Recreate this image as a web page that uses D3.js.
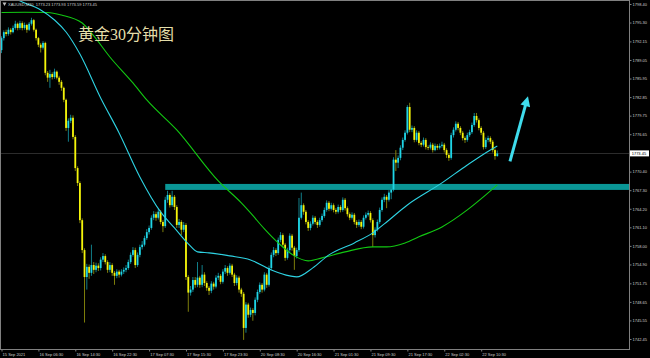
<!DOCTYPE html>
<html>
<head>
<meta charset="utf-8">
<script src="https://cdn.jsdelivr.net/npm/d3@7"></script>
<style>
body { margin: 0; background: #000; }
svg { display: block; }
</style>
</head>
<body>
<svg id="chart" width="650" height="358"></svg>
<script>
/* global d3*/
// XAUUSD M30
var firstOpen = 1790.7;

var closes = [
    1792.7, 1793.7, 1793.4, 1794.1, 1793.7, 1794.4, 1795.1, 1794.4, 1795.2, 1794.4,
    1794.9, 1794.1, 1795.1, 1795.7, 1794.1, 1792.7, 1791.6, 1791.1, 1791.9, 1786.9,
    1786.1, 1786.7, 1786.2, 1787.1, 1786.1, 1785.4, 1784.4, 1782.4, 1777.7, 1778.9,
    1779.4, 1776.2, 1771.0, 1768.5, 1762.3, 1757.3, 1752.8, 1754.5, 1753.5, 1754.8,
    1754.0, 1754.7, 1754.3, 1755.7, 1756.3, 1755.3, 1754.0, 1754.8, 1753.5, 1753.0,
    1753.7, 1753.2, 1753.7, 1754.0, 1754.3, 1755.3, 1756.5, 1757.3, 1754.8, 1756.5,
    1757.8, 1758.2, 1759.3, 1760.3, 1761.0, 1762.7, 1763.3, 1762.7, 1763.7, 1762.0,
    1761.3, 1765.7, 1766.5, 1764.8, 1766.2, 1764.5, 1761.5, 1762.0, 1760.7, 1761.5,
    1752.8, 1750.2, 1750.7, 1752.3, 1751.5, 1752.7, 1751.5, 1753.2, 1751.8, 1751.0,
    1750.5, 1751.7, 1751.2, 1752.7, 1753.0, 1752.0, 1753.7, 1754.3, 1753.5, 1754.7,
    1753.2, 1751.8, 1752.7, 1750.7, 1750.0, 1744.3, 1748.2, 1746.5, 1747.3, 1746.8,
    1749.0, 1750.3, 1751.5, 1750.7, 1753.2, 1751.5, 1754.3, 1756.5, 1757.3, 1756.8,
    1759.0, 1759.8, 1758.2, 1756.0, 1757.3, 1759.7, 1757.7, 1756.3, 1757.3, 1762.7,
    1764.8, 1763.7, 1762.0, 1761.0, 1761.7, 1762.7, 1762.0, 1761.5, 1762.3, 1763.0,
    1764.0, 1765.2, 1764.2, 1764.8, 1764.0, 1763.7, 1764.5, 1764.0, 1765.7, 1764.3,
    1763.3, 1762.7, 1763.2, 1762.0, 1761.5, 1762.0, 1761.2, 1762.7, 1763.2, 1763.5,
    1762.3, 1759.8, 1760.7, 1762.0, 1764.0, 1765.7, 1766.2, 1765.7, 1766.9, 1767.4,
    1772.4, 1771.9, 1772.7, 1774.4, 1775.7, 1776.9, 1781.2, 1777.4, 1777.7, 1775.7,
    1776.9, 1775.2, 1774.9, 1775.7, 1774.5, 1774.4, 1774.9, 1774.0, 1774.7, 1774.4,
    1774.7, 1774.9, 1774.0, 1773.2, 1772.7, 1776.5, 1777.4, 1778.4, 1777.7, 1776.9,
    1776.0, 1775.7, 1776.5, 1777.0, 1778.2, 1779.7, 1779.0, 1777.7, 1776.9, 1774.5,
    1775.7, 1776.0, 1775.4, 1774.0, 1773.0, 1773.45
];

var highs = [
    1793.0, 1794.0, 1794.1, 1794.5, 1794.4, 1794.8, 1795.6, 1795.3, 1795.6, 1795.5,
    1795.3, 1795.1, 1795.4, 1796.1, 1795.9, 1794.3, 1792.9, 1791.9, 1792.2, 1792.1,
    1787.2, 1787.4, 1787.0, 1787.6, 1787.3, 1786.4, 1785.7, 1784.6, 1782.6, 1779.3,
    1779.9, 1779.8, 1776.5, 1771.3, 1768.8, 1762.6, 1757.6, 1755.0, 1754.9, 1758.2,
    1755.3, 1755.2, 1755.1, 1756.1, 1756.8, 1756.6, 1755.6, 1755.3, 1755.1, 1753.8,
    1754.1, 1754.0, 1754.1, 1754.4, 1754.8, 1755.7, 1756.9, 1757.8, 1757.7, 1756.9,
    1758.2, 1758.8, 1759.7, 1760.8, 1761.4, 1763.1, 1763.8, 1763.7, 1764.2, 1764.0,
    1762.3, 1766.2, 1767.2, 1766.8, 1767.2, 1766.5, 1764.8, 1762.5, 1762.3, 1762.0,
    1761.8, 1753.1, 1751.3, 1752.8, 1752.8, 1755.3, 1753.0, 1754.8, 1753.6, 1752.1,
    1751.3, 1752.1, 1752.0, 1753.1, 1753.5, 1753.3, 1754.1, 1754.8, 1754.6, 1755.1,
    1755.0, 1753.5, 1753.1, 1753.0, 1751.0, 1750.3, 1748.6, 1748.5, 1747.7, 1747.6,
    1749.4, 1750.7, 1751.9, 1751.8, 1753.6, 1753.5, 1754.7, 1756.9, 1757.8, 1757.6,
    1759.4, 1760.3, 1760.1, 1758.5, 1757.7, 1760.1, 1760.0, 1758.0, 1757.7, 1766.0,
    1766.9, 1765.1, 1764.0, 1762.3, 1762.1, 1763.1, 1763.0, 1762.3, 1762.7, 1763.4,
    1764.4, 1765.6, 1765.5, 1765.2, 1765.1, 1764.3, 1764.9, 1764.8, 1766.1, 1766.0,
    1764.6, 1763.6, 1763.6, 1763.5, 1762.3, 1762.4, 1762.3, 1763.1, 1763.6, 1763.9,
    1763.8, 1762.6, 1761.1, 1762.4, 1764.4, 1766.1, 1766.7, 1766.5, 1767.3, 1767.9,
    1772.8, 1774.0, 1773.1, 1774.8, 1776.1, 1777.3, 1781.5, 1781.9, 1778.1, 1778.0,
    1777.3, 1777.2, 1775.5, 1776.1, 1776.0, 1774.8, 1775.3, 1775.2, 1775.1, 1775.0,
    1775.1, 1775.4, 1775.2, 1774.3, 1773.5, 1776.9, 1777.8, 1778.8, 1778.7, 1778.0,
    1777.2, 1776.3, 1776.9, 1777.4, 1778.6, 1780.2, 1780.2, 1779.3, 1778.0, 1777.2,
    1776.1, 1776.4, 1776.3, 1775.7, 1774.3, 1773.93
];

var lows = [
    1790.2, 1792.3, 1793.0, 1793.1, 1793.3, 1793.5, 1794.1, 1794.0, 1794.1, 1794.0,
    1794.1, 1793.6, 1793.9, 1794.8, 1793.8, 1792.3, 1791.2, 1790.3, 1790.8, 1786.5,
    1785.4, 1784.4, 1785.8, 1785.9, 1785.8, 1784.9, 1783.9, 1782.0, 1777.2, 1775.4,
    1778.5, 1775.8, 1770.5, 1768.0, 1761.8, 1756.8, 1745.2, 1750.7, 1752.5, 1753.0,
    1753.3, 1753.6, 1753.8, 1753.9, 1755.3, 1754.9, 1753.5, 1753.6, 1753.0, 1751.5,
    1752.6, 1752.7, 1752.9, 1753.3, 1753.6, 1754.0, 1755.0, 1756.2, 1754.3, 1754.5,
    1756.1, 1757.4, 1757.9, 1759.0, 1759.9, 1760.7, 1762.3, 1762.2, 1762.4, 1761.6,
    1760.3, 1761.0, 1765.2, 1764.4, 1764.5, 1764.0, 1761.0, 1761.0, 1759.8, 1760.3,
    1752.3, 1747.0, 1749.7, 1750.3, 1751.0, 1751.1, 1751.0, 1751.1, 1751.3, 1750.5,
    1749.8, 1750.1, 1750.7, 1750.9, 1752.3, 1751.6, 1751.7, 1753.3, 1753.0, 1753.2,
    1752.8, 1751.3, 1751.4, 1750.2, 1749.5, 1742.3, 1743.5, 1746.0, 1746.1, 1745.5,
    1746.4, 1748.6, 1750.0, 1750.2, 1750.4, 1751.0, 1751.2, 1754.0, 1756.1, 1756.3,
    1756.5, 1758.6, 1757.8, 1755.5, 1755.7, 1757.0, 1757.2, 1754.0, 1755.9, 1757.0,
    1762.4, 1763.2, 1761.6, 1760.5, 1760.6, 1761.4, 1761.6, 1761.0, 1761.2, 1762.0,
    1762.7, 1763.7, 1763.8, 1763.9, 1763.6, 1763.3, 1763.4, 1763.6, 1763.7, 1763.9,
    1762.9, 1762.3, 1762.4, 1761.6, 1761.0, 1761.2, 1760.8, 1760.9, 1762.4, 1762.9,
    1761.9, 1757.8, 1759.4, 1760.4, 1761.7, 1763.7, 1765.3, 1764.3, 1765.4, 1765.8,
    1767.1, 1770.5, 1771.0, 1772.3, 1774.0, 1775.4, 1776.6, 1777.0, 1777.0, 1775.3,
    1775.4, 1774.8, 1774.5, 1774.6, 1774.1, 1774.0, 1774.1, 1773.6, 1773.8, 1774.0,
    1774.1, 1774.4, 1773.6, 1772.7, 1772.2, 1772.4, 1776.1, 1777.1, 1777.3, 1776.5,
    1775.6, 1775.2, 1775.4, 1776.2, 1776.7, 1777.9, 1778.6, 1777.3, 1776.5, 1774.1,
    1774.2, 1775.3, 1775.0, 1773.6, 1772.4, 1772.9
];

var fastIdx = [5, 9, 17, 23, 28, 34, 43, 51, 60, 69, 75, 81, 85, 90, 99, 108, 117, 125, 128, 135, 142, 153, 161, 166, 176, 191, 202, 212, 215];
var fastVal = [1799.5, 1798.73, 1797.40, 1795.73, 1793.73, 1790.05, 1782.71, 1776.87, 1769.52, 1763.68, 1761.01, 1758.34, 1757.00, 1756.83, 1756.33, 1755.66, 1753.99, 1752.99, 1752.82, 1754.33, 1756.50, 1758.50, 1760.17, 1761.67, 1764.84, 1768.52, 1771.52, 1774.03, 1774.69];

// trage MA (groen)
var slowIdx = [0, 10, 20, 26, 35, 40, 47, 57, 63, 76, 94, 104, 108, 114, 120, 127, 133, 139, 149, 161, 167, 175, 181, 191, 202, 210, 215];
var slowVal = [1796.98, 1797.01, 1796.98, 1796.56, 1795.23, 1793.06, 1789.55, 1785.21, 1782.37, 1777.37, 1768.85, 1765.18, 1763.51, 1760.84, 1758.50, 1756.33, 1755.50, 1756.00, 1757.00, 1757.83, 1757.83, 1758.50, 1759.51, 1761.17, 1764.01, 1766.51, 1768.18];

var priceTicks = [1798.40, 1795.30, 1792.15, 1789.05, 1785.95, 1782.85, 1779.75, 1776.65,
    1770.40, 1767.30, 1764.20, 1761.10, 1758.00, 1754.90, 1751.75, 1748.65, 1745.55, 1742.45];

var timeLabels = ["15 Sep 2021", "16 Sep 06:30", "16 Sep 14:30", "16 Sep 22:30", "17 Sep 07:30",
    "17 Sep 15:30", "17 Sep 23:30", "20 Sep 08:30", "20 Sep 16:30", "21 Sep 01:30",
    "21 Sep 09:30", "21 Sep 17:30", "22 Sep 02:30", "22 Sep 10:30"];
var timeStep = 16;

var lastPrice = 1773.45;
var levelBand = [1767.35, 1768.35];
var levelStart = 71;
var arrowFrom = [220.5, 1772.1],
    arrowTo = [228.3, 1783.0];
var headerText = "XAUUSD,M30  1773.23 1773.93 1773.59 1773.45";
var title = "黄金30分钟图";

////////////////////////////////////////////////////////////////////
var svg = d3.select("#chart"),
    plot = { left: 1, top: 1, right: 629.5, bottom: 349.5 };

var x = d3.scaleLinear().domain([0, 215]).range([1.5, 497.3]),
    y = d3.scaleLinear().domain([1742.45, 1798.40]).range([339, 4]);

svg.append("rect")
    .attr("width", 650)
    .attr("height", 358)
    .attr("fill", "#000");

svg.append("clipPath")
    .attr("id", "clip")
    .append("rect")
    .attr("x", plot.left)
    .attr("y", plot.top)
    .attr("width", plot.right - plot.left)
    .attr("height", plot.bottom - plot.top);

var g = svg.append("g").attr("clip-path", "url(#clip)");

// bid lijn
g.append("line")
    .attr("x1", plot.left)
    .attr("x2", plot.right)
    .attr("y1", Math.round(y(lastPrice)) + 0.5)
    .attr("y2", Math.round(y(lastPrice)) + 0.5)
    .attr("stroke", "#2c2c2c");

// weerstand / steun zone
g.append("rect")
    .attr("x", x(levelStart))
    .attr("y", y(levelBand[1]))
    .attr("width", plot.right - x(levelStart))
    .attr("height", y(levelBand[0]) - y(levelBand[1]))
    .attr("fill", "#0a9696");

// candles
var bars = closes.map(function (c, i) {
    return { i: i, o: i ? closes[i - 1] : firstOpen, c: c, h: highs[i], l: lows[i] };
});

g.selectAll(".wick")
    .data(bars)
    .enter().append("line")
    .attr("class", "wick")
    .attr("x1", function (d) { return x(d.i); })
    .attr("x2", function (d) { return x(d.i); })
    .attr("y1", function (d) { return y(d.h); })
    .attr("y2", function (d) { return y(d.l); })
    .attr("stroke", function (d) { return d.c >= d.o ? "#138c98" : "#8c8c0c"; })
    .attr("stroke-width", 0.9);

g.selectAll(".bar")
    .data(bars)
    .enter().append("rect")
    .attr("class", "bar")
    .attr("x", function (d) { return x(d.i) - 0.9; })
    .attr("width", 1.8)
    .attr("y", function (d) { return y(Math.max(d.o, d.c)); })
    .attr("height", function (d) {
        return Math.max(0.8, Math.abs(y(d.o) - y(d.c)));
    })
    .attr("fill", function (d) { return d.c >= d.o ? "#1fd5e6" : "#f4f40a"; });

// moving averages
var maLine = d3.line()
    .x(function (d) { return x(d[0]); })
    .y(function (d) { return y(d[1]); })
    .curve(d3.curveMonotoneX);

g.append("path")
    .datum(slowIdx.map(function (d, i) { return [d, slowVal[i]]; }))
    .attr("d", maLine)
    .attr("fill", "none")
    .attr("stroke", "#12c812")
    .attr("stroke-width", 1.1);

g.append("path")
    .datum(fastIdx.map(function (d, i) { return [d, fastVal[i]]; }))
    .attr("d", maLine)
    .attr("fill", "none")
    .attr("stroke", "#2ed2e2")
    .attr("stroke-width", 1.1);

// pijl omhoog
var ax0 = x(arrowFrom[0]), ay0 = y(arrowFrom[1]),
    ax1 = x(arrowTo[0]), ay1 = y(arrowTo[1]);
var len = Math.sqrt((ax1 - ax0) * (ax1 - ax0) + (ay1 - ay0) * (ay1 - ay0)),
    ux = (ax1 - ax0) / len, uy = (ay1 - ay0) / len,
    headLen = 10, headW = 5;
var bx = ax1 - ux * headLen, by = ay1 - uy * headLen;

g.append("line")
    .attr("x1", ax0).attr("y1", ay0)
    .attr("x2", bx + ux * 1).attr("y2", by + uy * 1)
    .attr("stroke", "#3fdcec")
    .attr("stroke-width", 3);

g.append("polygon")
    .attr("points", [
        [ax1, ay1],
        [bx - uy * headW, by + ux * headW],
        [bx + uy * headW, by - ux * headW]
    ].join(" "))
    .attr("fill", "#3fdcec");

// kader
svg.append("rect")
    .attr("x", 0.5)
    .attr("y", 0.5)
    .attr("width", plot.right - 0.5)
    .attr("height", plot.bottom - 0.5)
    .attr("fill", "none")
    .attr("stroke", "#808080");

// prijs as
var yAxis = svg.append("g")
    .attr("class", "axis axis--y")
    .attr("transform", "translate(" + plot.right + ",0)")
    .call(d3.axisRight(y).tickValues(priceTicks).tickSize(2).tickPadding(1)
        .tickFormat(d3.format(".2f")));
yAxis.select(".domain").remove();

// tijd as
var xAxis = svg.append("g")
    .attr("class", "axis axis--x")
    .attr("transform", "translate(0," + plot.bottom + ")")
    .call(d3.axisBottom(x)
        .tickValues(timeLabels.map(function (d, i) { return i * timeStep; }))
        .tickSize(2).tickPadding(1.4)
        .tickFormat(function (d, i) { return timeLabels[i]; }));
xAxis.select(".domain").remove();
xAxis.selectAll("text")
    .style("text-anchor", "start")
    .attr("dx", "0.15em");

svg.selectAll(".axis")
    .attr("font-family", "'Liberation Sans', Arial, sans-serif")
    .attr("font-size", 4);
svg.selectAll(".axis line").attr("stroke", "#808080");
svg.selectAll(".axis text").attr("fill", "#cfcfcf");

// huidige prijs label
var yp = y(lastPrice);
svg.append("rect")
    .attr("x", plot.right + 0.5)
    .attr("y", yp - 3)
    .attr("width", 19)
    .attr("height", 6)
    .attr("fill", "#fff");
svg.append("text")
    .attr("x", plot.right + 2.2)
    .attr("y", yp)
    .attr("dy", "0.35em")
    .attr("font-family", "'Liberation Sans', Arial, sans-serif")
    .attr("font-size", 4)
    .attr("fill", "#000")
    .text(d3.format(".2f")(lastPrice));

// kop en titel
svg.append("polygon")
    .attr("points", "2.5,2.5 6.5,2.5 4.5,6")
    .attr("fill", "#bdbdbd");
svg.append("text")
    .attr("x", 8)
    .attr("y", 6)
    .attr("font-family", "'Liberation Sans', Arial, sans-serif")
    .attr("font-size", 4)
    .attr("fill", "#cfcfcf")
    .style("white-space", "pre")
    .text(headerText);

svg.append("text")
    .attr("x", 78)
    .attr("y", 40)
    .attr("font-family", "'Liberation Serif', 'Noto Sans CJK SC', serif")
    .attr("font-size", 16)
    .attr("fill", "#e4deaa")
    .text(title);
</script>
</body>
</html>
